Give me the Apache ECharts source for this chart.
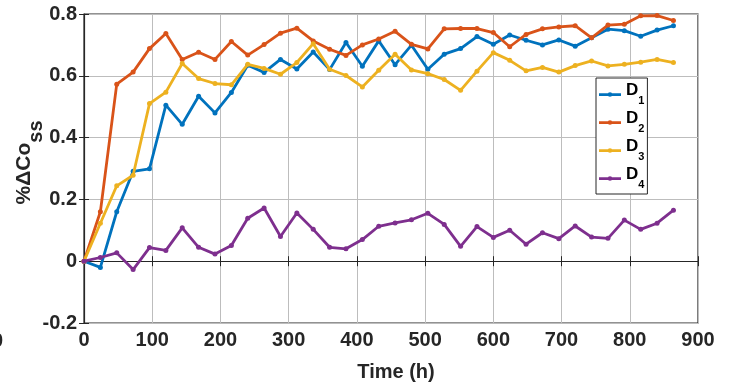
<!DOCTYPE html>
<html><head><meta charset="utf-8">
<script src="https://cdn.jsdelivr.net/npm/echarts@6/dist/echarts.min.js"></script>
<style>html,body{margin:0;padding:0;background:#fff}#c{width:735px;height:392px}</style>
</head><body><div id="c"></div>
<script>
const times = [0,24,48,72,96,120,144,168,192,216,240,264,288,312,336,360,384,408,432,456,480,504,528,552,576,600,624,648,672,696,720,744,768,792,816,840,864];
const d1 = [0,-0.02,0.16,0.291,0.299,0.505,0.443,0.534,0.480,0.546,0.634,0.611,0.653,0.622,0.677,0.620,0.708,0.631,0.713,0.636,0.699,0.621,0.670,0.688,0.727,0.702,0.732,0.715,0.700,0.716,0.696,0.723,0.751,0.746,0.728,0.748,0.762];
const d2 = [0,0.16,0.573,0.612,0.688,0.737,0.653,0.676,0.653,0.711,0.667,0.701,0.738,0.754,0.713,0.686,0.666,0.700,0.719,0.744,0.702,0.687,0.752,0.753,0.753,0.740,0.694,0.734,0.752,0.758,0.762,0.723,0.764,0.767,0.794,0.795,0.779];
const d3 = [0,0.123,0.244,0.278,0.510,0.547,0.640,0.591,0.575,0.571,0.637,0.624,0.605,0.643,0.704,0.621,0.601,0.564,0.618,0.670,0.619,0.607,0.588,0.553,0.615,0.675,0.650,0.616,0.627,0.612,0.633,0.648,0.632,0.637,0.644,0.653,0.643];
const d4 = [0,0.012,0.027,-0.027,0.044,0.035,0.108,0.045,0.023,0.051,0.139,0.172,0.080,0.156,0.103,0.045,0.040,0.070,0.113,0.124,0.134,0.155,0.119,0.048,0.112,0.077,0.100,0.055,0.092,0.073,0.114,0.078,0.074,0.133,0.103,0.123,0.165];
const names = ['D1','D2','D3','D4'];
const colors = ['#0072BD','#D95319','#EDB120','#7E2F8E'];

const F = '"Liberation Sans", Arial, Helvetica, sans-serif';
const TC = '#262626';
const pair = a => times.map((t,i)=>[t,a[i]]);
const chart = echarts.init(document.getElementById('c'), null, {renderer:'canvas'});
const series = [d1,d2,d3,d4].map((d,i)=>({
  name: names[i], type:'line', data: pair(d), symbol:'circle', symbolSize:5,
  lineStyle:{width:2.8,color:colors[i]}, itemStyle:{color:colors[i]}, animation:false, z:2+i
}));
const tick = {show:true,inside:true,length:5,lineStyle:{color:TC,width:1}};
const lbl = {fontFamily:F,fontWeight:'bold',fontSize:20,color:TC};
chart.setOption({
  animation:false,
  grid:{left:84,right:37,top:14,bottom:69,containLabel:false,outerBoundsMode:'none',show:true,borderColor:TC,borderWidth:1.2,backgroundColor:'transparent'},
  xAxis:[{type:'value',min:0,max:900,interval:100,
    name:'Time (h)',nameLocation:'middle',nameGap:39,nameMoveOverlap:false,
    nameTextStyle:Object.assign({},lbl,{padding:[0,0,0,10]}),
    axisLine:{show:true,lineStyle:{color:TC,width:1.2}},
    axisTick:tick,
    axisLabel:Object.assign({},lbl,{margin:7}),
    splitLine:{show:true,lineStyle:{color:'#bdbdbd',width:1}}},
   {type:'value',position:'top',min:0,max:900,interval:100,axisLine:{show:false},axisTick:tick,axisLabel:{show:false},splitLine:{show:false}}],
  yAxis:[{type:'value',min:-0.2,max:0.8,interval:0.2,
    name:'{a|%ΔCo}{b|ss}',nameLocation:'middle',nameGap:38,nameRotate:90,nameMoveOverlap:false,
    nameTextStyle:{fontFamily:F,fontWeight:'bold',fontSize:21,color:TC,padding:[0,0,0,12],
      rich:{a:{fontFamily:F,fontWeight:'bold',fontSize:21,color:TC},
            b:{fontFamily:F,fontWeight:'bold',fontSize:20,color:TC,padding:[24,0,0,0]}}},
    axisLine:{show:true,lineStyle:{color:TC,width:1.2}},
    axisTick:tick,
    axisLabel:Object.assign({},lbl,{margin:7,
      formatter:v=>{const r=Math.round(v*10)/10; return r===0?'0':String(r);}}),
    splitLine:{show:true,lineStyle:{color:'#bdbdbd',width:1}}},
   {type:'value',position:'right',min:-0.2,max:0.8,interval:0.2,axisLine:{show:false},axisTick:tick,axisLabel:{show:false},splitLine:{show:false}}],
  legend:{orient:'vertical',left:596,top:78,padding:[4,3,4,3],itemGap:4,itemWidth:22,itemHeight:5,
    backgroundColor:'#fff',borderColor:TC,borderWidth:1,
    data:names.map(n=>({name:n,icon:'path://M0,1h24v3h-24z M9.5,2.5a2.5,2.5 0 1,1 5,0a2.5,2.5 0 1,1 -5,0z'})),
    formatter:n=>'{d|D}{s|'+n.slice(1)+'}',
    textStyle:{rich:{d:{fontFamily:F,fontWeight:'bold',fontSize:17,color:'#000',padding:[0,0,8,0]},
      s:{fontFamily:F,fontWeight:'bold',fontSize:11,color:'#000',padding:[12,0,0,0]}}}},
  graphic:[{type:'text',left:-8,top:331,style:{text:'0',font:'bold 20px '+F,fill:TC}}],
  series
});
</script></body></html>
